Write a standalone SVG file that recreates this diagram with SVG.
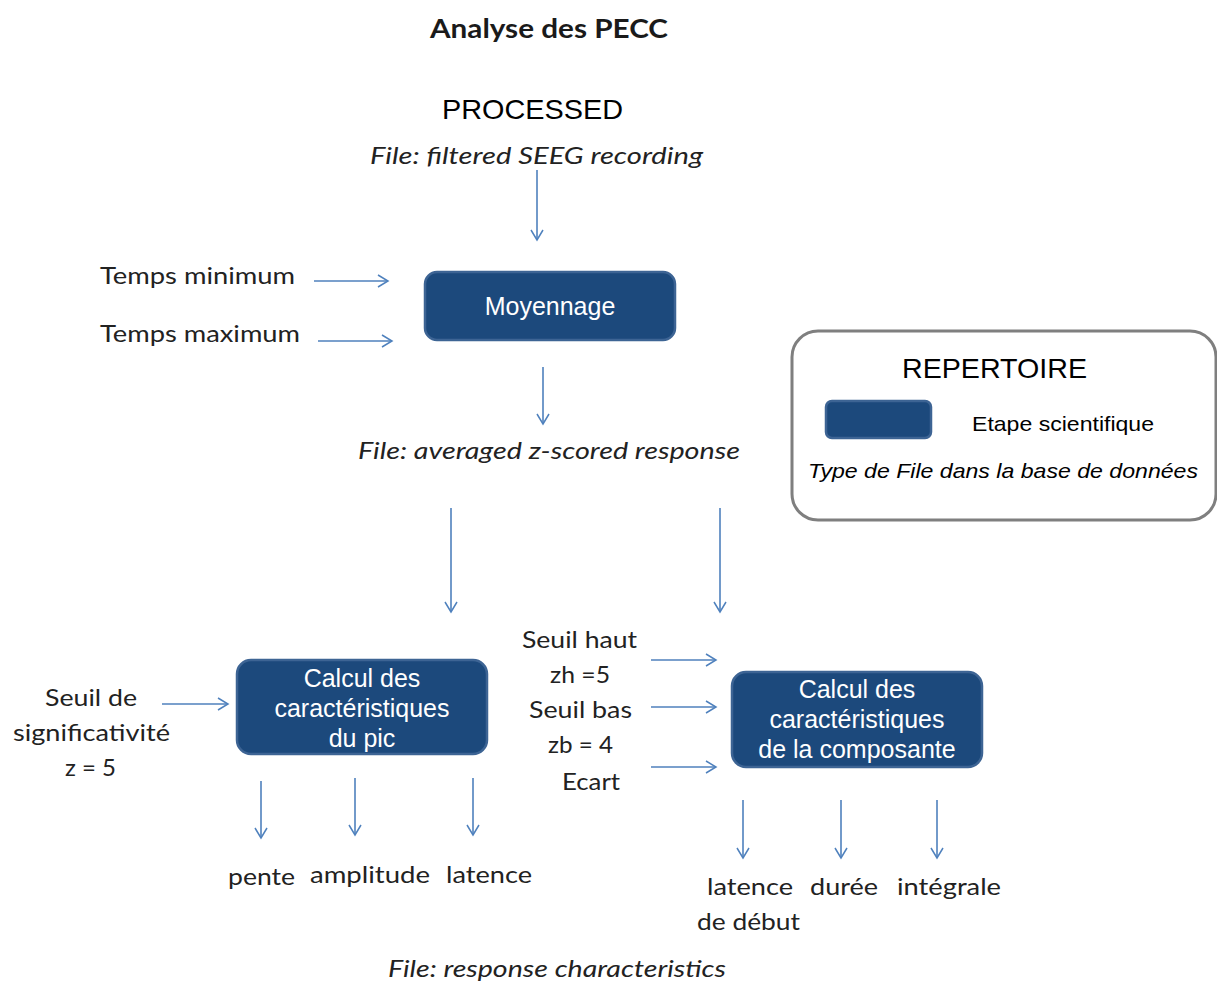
<svg xmlns="http://www.w3.org/2000/svg" width="1217" height="983" viewBox="0 0 1217 983">
<defs>
<marker id="ah" markerWidth="14" markerHeight="14" refX="11" refY="7" orient="auto" markerUnits="userSpaceOnUse">
<path d="M1,1 L11,7 L1,13" fill="none" stroke="#4f81bd" stroke-width="1.5"/>
</marker>
<style>
.c{font-family:Lato,"Open Sans",sans-serif;font-size:24px;fill:#222}
.ci{font-family:Lato,"Open Sans",sans-serif;font-size:24px;font-style:italic;fill:#222}
.a{font-family:"Liberation Sans",Arial,sans-serif;fill:#000}
.box{fill:#1c497c;stroke:#3d6494;stroke-width:2.5}
.bt{font-family:"Liberation Sans",Arial,sans-serif;font-size:25px;fill:#fff;text-anchor:middle}
.ln{stroke:#4f81bd;stroke-width:1.6;fill:none;marker-end:url(#ah)}
</style>
</defs>
<rect width="1217" height="983" fill="#fff"/>
<g id="title">
<text x="430" y="38" font-family="Lato,'Open Sans',sans-serif" font-weight="bold" font-size="26" fill="#1a1a1a" textLength="238" lengthAdjust="spacingAndGlyphs">Analyse des PECC</text>
</g>
<g id="processed">
<text class="a" x="442" y="119" font-size="28" textLength="181" lengthAdjust="spacingAndGlyphs">PROCESSED</text>
<text class="ci" x="370" y="164" textLength="333" lengthAdjust="spacingAndGlyphs">File:  filtered SEEG recording</text>
</g>
<g id="inputs-moyennage">
<text class="c" x="100" y="284" textLength="195" lengthAdjust="spacingAndGlyphs">Temps minimum</text>
<text class="c" x="100" y="342" textLength="200" lengthAdjust="spacingAndGlyphs">Temps maximum</text>
</g>
<g id="moyennage">
<rect class="box" x="425" y="272" width="250" height="68" rx="12"/>
<text class="bt" x="550" y="315">Moyennage</text>
</g>
<g id="averaged">
<text class="ci" x="358" y="459" textLength="382" lengthAdjust="spacingAndGlyphs">File: averaged z-scored response</text>
</g>
<g id="legend">
<rect x="792" y="331" width="424" height="189" rx="26" fill="#fff" stroke="#7f7f7f" stroke-width="3"/>
<text class="a" x="902" y="378" font-size="28" textLength="185" lengthAdjust="spacingAndGlyphs">REPERTOIRE</text>
<rect class="box" x="826" y="401" width="105" height="37" rx="6"/>
<text class="a" x="972" y="431" font-size="21" textLength="182" lengthAdjust="spacingAndGlyphs">Etape scientifique</text>
<text class="a" x="808" y="478" font-size="21" font-style="italic" textLength="390" lengthAdjust="spacingAndGlyphs">Type de File dans la base de données</text>
</g>
<g id="seuil-signif">
<text class="c" x="45" y="706" textLength="92" lengthAdjust="spacingAndGlyphs">Seuil de</text>
<text class="c" x="13" y="741" textLength="157" lengthAdjust="spacingAndGlyphs">significativité</text>
<text class="c" x="65" y="776" textLength="51" lengthAdjust="spacingAndGlyphs">z = 5</text>
</g>
<g id="calcul-pic">
<rect class="box" x="237" y="660" width="250" height="94" rx="14"/>
<text class="bt" x="362" y="687">Calcul des</text>
<text class="bt" x="362" y="717">caractéristiques</text>
<text class="bt" x="362" y="747">du pic</text>
</g>
<g id="seuils-composante">
<text class="c" x="522" y="648" textLength="115" lengthAdjust="spacingAndGlyphs">Seuil haut</text>
<text class="c" x="550" y="683" textLength="60" lengthAdjust="spacingAndGlyphs">zh =5</text>
<text class="c" x="529" y="718" textLength="103" lengthAdjust="spacingAndGlyphs">Seuil bas</text>
<text class="c" x="548" y="753" textLength="65" lengthAdjust="spacingAndGlyphs">zb = 4</text>
<text class="c" x="562" y="790" textLength="58" lengthAdjust="spacingAndGlyphs">Ecart</text>
</g>
<g id="calcul-composante">
<rect class="box" x="732" y="672" width="250" height="95" rx="14"/>
<text class="bt" x="857" y="698">Calcul des</text>
<text class="bt" x="857" y="728">caractéristiques</text>
<text class="bt" x="857" y="758">de la composante</text>
</g>
<g id="outputs-pic">
<text class="c" x="228" y="885" textLength="67" lengthAdjust="spacingAndGlyphs">pente</text>
<text class="c" x="310" y="883" textLength="120" lengthAdjust="spacingAndGlyphs">amplitude</text>
<text class="c" x="446" y="883" textLength="86" lengthAdjust="spacingAndGlyphs">latence</text>
</g>
<g id="outputs-composante">
<text class="c" x="707" y="895" textLength="86" lengthAdjust="spacingAndGlyphs">latence</text>
<text class="c" x="697" y="930" textLength="103" lengthAdjust="spacingAndGlyphs">de début</text>
<text class="c" x="810" y="895" textLength="68" lengthAdjust="spacingAndGlyphs">durée</text>
<text class="c" x="897" y="895" textLength="104" lengthAdjust="spacingAndGlyphs">intégrale</text>
</g>
<g id="response">
<text class="ci" x="388" y="977" textLength="338" lengthAdjust="spacingAndGlyphs">File: response characteristics</text>
</g>
<g id="connectors">
<line class="ln" x1="537" y1="170" x2="537" y2="240"/>
<line class="ln" x1="314" y1="281" x2="388" y2="281"/>
<line class="ln" x1="318" y1="341" x2="392" y2="341"/>
<line class="ln" x1="543" y1="367" x2="543" y2="424"/>
<line class="ln" x1="451" y1="508" x2="451" y2="612"/>
<line class="ln" x1="720" y1="508" x2="720" y2="612"/>
<line class="ln" x1="162" y1="704" x2="228" y2="704"/>
<line class="ln" x1="651" y1="660" x2="716" y2="660"/>
<line class="ln" x1="651" y1="707" x2="716" y2="707"/>
<line class="ln" x1="651" y1="767" x2="716" y2="767"/>
<line class="ln" x1="261" y1="781" x2="261" y2="838"/>
<line class="ln" x1="355" y1="778" x2="355" y2="835"/>
<line class="ln" x1="473" y1="778" x2="473" y2="835"/>
<line class="ln" x1="743" y1="800" x2="743" y2="858"/>
<line class="ln" x1="841" y1="800" x2="841" y2="858"/>
<line class="ln" x1="937" y1="800" x2="937" y2="858"/>
</g>
</svg>
